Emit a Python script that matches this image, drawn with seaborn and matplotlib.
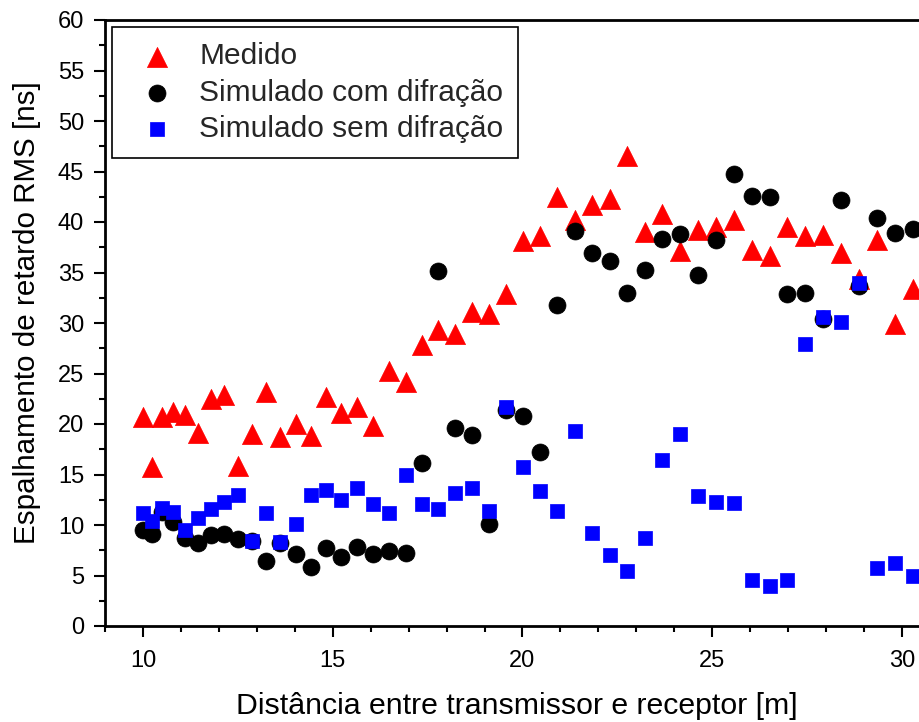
import numpy as np
import pandas as pd
import matplotlib
matplotlib.use("Agg")
import matplotlib.pyplot as plt
import seaborn as sns
from matplotlib.ticker import MultipleLocator

distancia = [10.0, 10.25, 10.5, 10.8, 11.12, 11.45, 11.8, 12.13, 12.5, 12.87,
             13.24, 13.62, 14.02, 14.42, 14.82, 15.23, 15.65, 16.06, 16.48, 16.92,
             17.35, 17.78, 18.23, 18.67, 19.12, 19.56, 20.01, 20.47, 20.92, 21.38,
             21.84, 22.3, 22.76, 23.22, 23.69, 24.16, 24.62, 25.1, 25.57, 26.04,
             26.51, 26.97, 27.44, 27.92, 28.4, 28.87, 29.35, 29.83, 30.3]
medido = [20.7, 15.7, 20.7, 21.2, 20.9, 19.1, 22.5, 22.9, 15.8, 19.0,
          23.2, 18.7, 20.0, 18.8, 22.7, 21.1, 21.7, 19.8, 25.2, 24.2,
          27.8, 29.3, 28.9, 31.1, 30.9, 32.9, 38.1, 38.6, 42.5, 40.2,
          41.7, 42.3, 46.5, 39.0, 40.8, 37.1, 39.2, 39.5, 40.2, 37.2,
          36.6, 39.5, 38.6, 38.7, 36.9, 34.4, 38.2, 29.9, 33.4]
com_difracao = [9.5, 9.1, 11.3, 10.3, 8.75, 8.25, 9.0, 9.1, 8.6, 8.4,
                6.4, 8.2, 7.1, 5.8, 7.7, 6.8, 7.8, 7.1, 7.4, 7.2,
                16.1, 35.1, 19.6, 18.9, 10.1, 21.4, 20.8, 17.2, 31.8, 39.1,
                36.9, 36.1, 33.0, 35.2, 38.3, 38.8, 34.8, 38.2, 44.8, 42.6,
                42.5, 32.9, 33.0, 30.4, 42.2, 33.7, 40.4, 38.9, 39.3]
sem_difracao = [11.2, 10.4, 11.7, 11.3, 9.5, 10.65, 11.55, 12.3, 13.0, 8.45,
                11.2, 8.3, 10.1, 13.0, 13.5, 12.5, 13.7, 12.1, 11.2, 14.95,
                12.1, 11.55, 13.2, 13.7, 11.4, 21.65, 15.7, 13.4, 11.4, 19.3,
                9.2, 7.0, 5.4, 8.7, 16.4, 19.0, 12.9, 12.3, 12.2, 4.6,
                4.0, 4.6, 27.9, 30.6, 30.1, 34.0, 5.7, 6.2, 5.0]

series_names = ["Medido", "Simulado com difração", "Simulado sem difração"]
x_ticks = [10, 15, 20, 25, 30]
y_ticks = list(range(0, 61, 5))

sns.set_theme(style="white")
plt.rcParams['font.family'] = ['Liberation Sans', 'DejaVu Sans']

fig = plt.figure(figsize=(9.19, 7.22), dpi=100)
ax = fig.add_axes([105 / 919, 96 / 722, (22 * 37.95) / 919, 606 / 722])

df_med = pd.DataFrame({"x": distancia, "y": medido})
df_com = pd.DataFrame({"x": distancia, "y": com_difracao})
df_sem = pd.DataFrame({"x": distancia, "y": sem_difracao})

sns.scatterplot(data=df_med, x="x", y="y", ax=ax, marker="^", s=210,
                color="#ff0000", edgecolor="#ff0000", linewidth=0.5, label=series_names[0])
sns.scatterplot(data=df_com, x="x", y="y", ax=ax, marker="o", s=150,
                color="black", edgecolor="black", linewidth=0.5, label=series_names[1])
sns.scatterplot(data=df_sem, x="x", y="y", ax=ax, marker="s", s=95,
                color="#0000ff", edgecolor="#0000ff", linewidth=0.5, label=series_names[2])

ax.set_xlim(9, 31)
ax.set_ylim(0, 60)
ax.set_xticks(x_ticks)
ax.set_yticks(y_ticks)
ax.xaxis.set_minor_locator(MultipleLocator(1))
ax.yaxis.set_minor_locator(MultipleLocator(2.5))
ax.tick_params(axis="both", which="major", direction="out", length=8, width=1.5,
               labelsize=17, color="black", labelcolor="black")
ax.tick_params(axis="both", which="minor", direction="out", length=4, width=1.5, color="black")
ax.tick_params(axis="x", which="both", bottom=True, top=False)
ax.tick_params(axis="y", which="both", left=True, right=False)
ax.tick_params(axis="x", which="major", pad=9)
ax.tick_params(axis="y", which="major", pad=7)

for sp in ax.spines.values():
    sp.set_linewidth(2)
    sp.set_color("black")

ax.set_xlabel("Distância entre transmissor e receptor [m]", fontsize=21.8, color="black")
ax.set_ylabel("Espalhamento de retardo RMS [ns]", fontsize=21.3, color="black")
ax.xaxis.set_label_coords(0.493, -0.109)
ax.yaxis.set_label_coords(-0.077, 0.517)

leg = ax.legend(loc="upper left", bbox_to_anchor=(0.0, 1.0), fontsize=21.5, frameon=True,
                fancybox=False, edgecolor="black", framealpha=1, borderpad=0.5,
                handlelength=2.0, handletextpad=0.4, labelspacing=0.28,
                borderaxespad=0.25, markerscale=1.0)
leg.get_frame().set_linewidth(1.2)

fig.savefig("out.png", dpi=100)
